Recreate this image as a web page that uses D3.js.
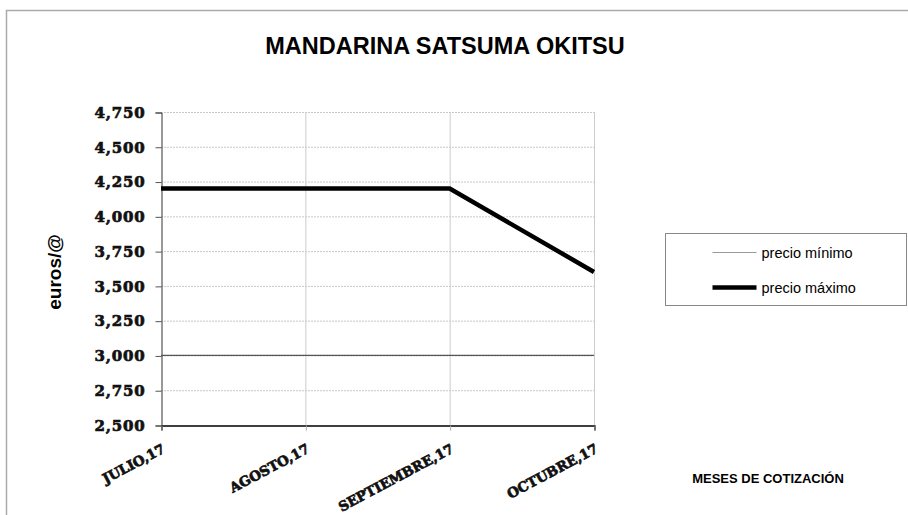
<!DOCTYPE html>
<html>
<head>
<meta charset="utf-8">
<script src="https://cdn.jsdelivr.net/npm/d3@7"></script>
<style>
  body { margin: 0; background: white; }
</style>
</head>
<body>
<svg id="chart"></svg>
<script>
var months = ["JULIO,17", "AGOSTO,17", "SEPTIEMBRE,17", "OCTUBRE,17"]
var precioMinimo = [3.0, 3.0, 3.0, 3.0]
var precioMaximo = [4.2, 4.2, 4.2, 3.6]
var yTicks = [2.5, 2.75, 3.0, 3.25, 3.5, 3.75, 4.0, 4.25, 4.5, 4.75]

var dimensions = {
  width: 908,
  height: 515,
  margin: {
    top: 112,
    bottom: 90,
    right: 314,
    left: 161
  }
}

var svg = d3.select("#chart")
  .attr("width", dimensions.width)
  .attr("height", dimensions.height)

// outer chart border (only top and left are visible)
svg.append("path")
  .attr("d", "M6.5,520 L6.5,10.5 L915,10.5")
  .attr("fill", "none")
  .attr("stroke", "#aaaaaa")
  .attr("stroke-width", 1.5)

var xScale = d3.scalePoint()
  .domain(months)
  .range([dimensions.margin.left, dimensions.width - dimensions.margin.right])

var yScale = d3.scaleLinear()
  .domain([2.5, 4.75])
  .range([dimensions.height - dimensions.margin.bottom, dimensions.margin.top])

var fmt = d => d3.format(".3f")(d).replace(".", ",")

// horizontal dotted gridlines
svg.append("g")
  .selectAll("line")
  .data(yTicks.slice(1))
  .enter().append("line")
  .attr("x1", xScale.range()[0])
  .attr("x2", xScale.range()[1])
  .attr("y1", d => yScale(d) + 0.5)
  .attr("y2", d => yScale(d) + 0.5)
  .attr("stroke", "#c8c8c8")
  .attr("stroke-dasharray", "2,1")

// vertical gridlines
svg.append("g")
  .selectAll("line")
  .data(months.slice(1))
  .enter().append("line")
  .attr("x1", d => xScale(d) + 0.5)
  .attr("x2", d => xScale(d) + 0.5)
  .attr("y1", yScale(4.75))
  .attr("y2", yScale(2.5))
  .attr("stroke", "#cccccc")

// y axis
var yAxisGen = d3.axisLeft(yScale)
  .tickValues(yTicks)
  .tickSize(6)
  .tickPadding(10)
  .tickFormat(fmt)
var yAxis = svg.append("g")
  .attr("transform", `translate(${dimensions.margin.left + 0.5},0.5)`)
  .call(yAxisGen)
yAxis.select(".domain").attr("stroke", "#333")
yAxis.selectAll(".tick line").attr("stroke", "#555")
yAxis.selectAll("text")
  .style("font-family", "DejaVu Serif")
  .style("font-weight", "bold")
  .style("font-size", "15px")
  .style("letter-spacing", "0.8px")
  .attr("fill", "#111")
  .attr("stroke", "#111")
  .attr("stroke-width", 0.7)

// x axis
var xAxisGen = d3.axisBottom(xScale)
  .tickSize(5)
  .tickFormat("")
var xAxis = svg.append("g")
  .attr("transform", `translate(0.5,${yScale(2.5) + 0.5})`)
  .call(xAxisGen)
xAxis.select(".domain").attr("stroke", "#000").attr("stroke-width", 1.5)
xAxis.selectAll(".tick line").attr("stroke", "#aaa")

svg.append("g")
  .selectAll("text")
  .data(months)
  .enter().append("text")
  .attr("transform", d => `translate(${xScale(d)},${yScale(2.5) + 17}) rotate(-28)`)
  .attr("y", 11)
  .attr("text-anchor", "end")
  .style("font-family", "DejaVu Serif")
  .style("font-weight", "bold")
  .style("font-size", "13.5px")
  .attr("fill", "#111")
  .attr("stroke", "#111")
  .attr("stroke-width", 0.7)
  .text(d => d)

// series
var line = d3.line()
  .x((d, i) => xScale(months[i]))
  .y(d => yScale(d))

svg.append("path")
  .datum(precioMinimo)
  .attr("d", line)
  .attr("fill", "none")
  .attr("stroke", "#555")
  .attr("stroke-width", 1.2)

svg.append("path")
  .datum(precioMaximo)
  .attr("d", line)
  .attr("fill", "none")
  .attr("stroke", "#000")
  .attr("stroke-width", 4.5)

// title
svg.append("text")
  .attr("x", 445)
  .attr("y", 54)
  .attr("text-anchor", "middle")
  .style("font-family", "Liberation Sans")
  .style("font-weight", "bold")
  .style("font-size", "23.5px")
  .text("MANDARINA SATSUMA OKITSU")

// y label
svg.append("text")
  .attr("transform", "translate(61,272) rotate(-90)")
  .attr("text-anchor", "middle")
  .style("font-family", "Liberation Sans")
  .style("font-weight", "bold")
  .style("font-size", "19px")
  .text("euros/@")

// x label
svg.append("text")
  .attr("x", 768)
  .attr("y", 483)
  .attr("text-anchor", "middle")
  .style("font-family", "Liberation Sans")
  .style("font-weight", "bold")
  .style("font-size", "13px")
  .text("MESES DE COTIZACIÓN")

// legend
var legend = svg.append("g")
  .attr("transform", "translate(665.5,233.5)")
legend.append("rect")
  .attr("width", 241)
  .attr("height", 72)
  .attr("fill", "white")
  .attr("stroke", "#888")

var legendItems = [
  { name: "precio mínimo", color: "#999", width: 1.2, y: 19 },
  { name: "precio máximo", color: "#000", width: 4.5, y: 54 }
]
var items = legend.selectAll(".item")
  .data(legendItems)
  .enter().append("g")
  .attr("class", "item")
  .attr("transform", d => `translate(0,${d.y})`)
items.append("line")
  .attr("x1", 47)
  .attr("x2", 91)
  .attr("stroke", d => d.color)
  .attr("stroke-width", d => d.width)
items.append("text")
  .attr("x", 96)
  .attr("y", 5)
  .style("font-family", "Liberation Sans")
  .style("font-size", "14.5px")
  .text(d => d.name)
</script>
</body>
</html>
